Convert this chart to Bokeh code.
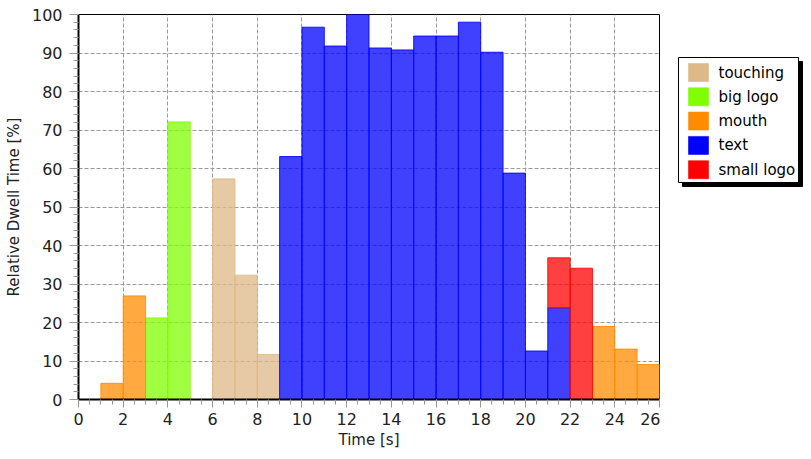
from bokeh.plotting import figure
from bokeh.layouts import row
from bokeh.models import Range1d, SingleIntervalTicker
from bokeh.core.properties import value
from bokeh.embed import file_html
from bokeh.resources import INLINE

# ---- data (bin left edge in seconds, relative dwell time in %) ----
touching_t = [6, 7, 8]
touching_v = [57.3, 32.3, 11.7]
biglogo_t = [3, 4]
biglogo_v = [21.2, 72.1]
mouth_t = [1, 2, 23, 24, 25]
mouth_v = [4.2, 26.9, 19.0, 13.1, 9.1]
text_t = [9, 10, 11, 12, 13, 14, 15, 16, 17, 18, 19, 20, 21]
text_v = [63.1, 96.7, 91.8, 100.0, 91.3, 90.8, 94.4, 94.4, 98.0, 90.2, 58.8, 12.6, 23.8]
small_t = [21, 22]
small_v = [36.8, 34.1]

names = ["touching", "big logo", "mouth", "text", "small logo"]
colors = ["#DEB887", "#7FFF00", "#FF8C00", "#0000FF", "#FF0000"]

FONT = "DejaVu Sans"
W, H = 803, 451
PW = 660
TOP, BOT = 14, 52

p = figure(width=PW, height=H, output_backend="svg", toolbar_location=None,
           x_range=Range1d(0, 26), y_range=Range1d(0, 100),
           min_border_left=78, min_border_right=1, min_border_top=TOP, min_border_bottom=BOT)
p.background_fill_color = "white"
p.border_fill_color = "white"
p.outline_line_color = "black"
p.outline_line_width = 1

text_lookup = dict(zip(text_t, text_v))
series = [
    (touching_t, touching_v, [0] * len(touching_t)),
    (biglogo_t, biglogo_v, [0] * len(biglogo_t)),
    (mouth_t, mouth_v, [0] * len(mouth_t)),
    (text_t, text_v, [0] * len(text_t)),
    (small_t, small_v, [text_lookup.get(t, 0) for t in small_t]),
]
for (ts, vs, bs), c in zip(series, colors):
    p.vbar(x=[t + 0.5 for t in ts], top=vs, bottom=bs, width=1,
           fill_color=c, fill_alpha=0.75, line_color=c, line_alpha=0.85, line_width=1)

# axes
p.xaxis.ticker = SingleIntervalTicker(interval=2, num_minor_ticks=4)
p.yaxis.ticker = SingleIntervalTicker(interval=10, num_minor_ticks=5)
p.xaxis.axis_label = "Time [s]"
p.yaxis.axis_label = "Relative Dwell Time [%]"
for ax in (p.xaxis, p.yaxis):
    ax.axis_line_color = "black"
    ax.axis_line_width = 2
    ax.major_tick_line_color = "#999999"
    ax.minor_tick_line_color = "#999999"
    ax.major_tick_in = 0
    ax.minor_tick_in = 0
    ax.minor_tick_out = 5
    ax.major_label_text_font = FONT
    ax.major_label_text_font_size = "16px"
    ax.major_label_text_color = "#222222"
    ax.axis_label_text_font = FONT
    ax.axis_label_text_font_size = "15px"
    ax.axis_label_text_font_style = "normal"
    ax.axis_label_text_color = "#222222"
p.xaxis.major_tick_out = 8
p.yaxis.major_tick_out = 9
p.xaxis.major_label_standoff = 5
p.yaxis.major_label_standoff = 7
p.xaxis.axis_label_standoff = 3
p.yaxis.axis_label_standoff = 6

for g in (p.xgrid, p.ygrid):
    g.grid_line_color = "#9a9a9a"
    g.grid_line_dash = "4 2"
    g.grid_line_width = 1
p.xgrid.ticker = SingleIntervalTicker(interval=2)
p.ygrid.ticker = SingleIntervalTicker(interval=10)

# ---- legend drawn in a side panel (pixel coordinates, y downward) ----
LW = W - PW
leg = figure(width=LW, height=H, output_backend="svg", toolbar_location=None,
             x_range=Range1d(0, LW), y_range=Range1d(H - BOT, TOP),
             x_axis_location=None, y_axis_location=None,
             min_border_left=0, min_border_right=0,
             min_border_top=TOP, min_border_bottom=BOT, outline_line_color=None)
leg.grid.visible = False
leg.background_fill_color = "white"
leg.border_fill_color = "white"

bx0, bx1, by0, by1 = 18, 138, 57, 182
sh = 4
leg.quad(left=bx0 + sh, right=bx1 + sh, top=by0 + sh, bottom=by1 + sh,
         fill_color="black", line_color="black")
leg.quad(left=bx0, right=bx1, top=by0, bottom=by1,
         fill_color="white", line_color="black", line_width=1)

row_y = [by0 + 15 + 24.3 * i for i in range(len(names))]
leg.quad(left=[bx0 + 10] * len(names), right=[bx0 + 30] * len(names),
         top=[y - 9 for y in row_y], bottom=[y + 9 for y in row_y],
         fill_color=colors, line_color=colors, line_alpha=0.6)
leg.text(x=[bx0 + 40] * len(names), y=row_y, text=names,
         text_baseline="middle", text_align="left",
         text_font=value(FONT), text_font_size="15px", text_color="black")

layout = row(p, leg)
open("out.html", "w").write(file_html(layout, INLINE))
